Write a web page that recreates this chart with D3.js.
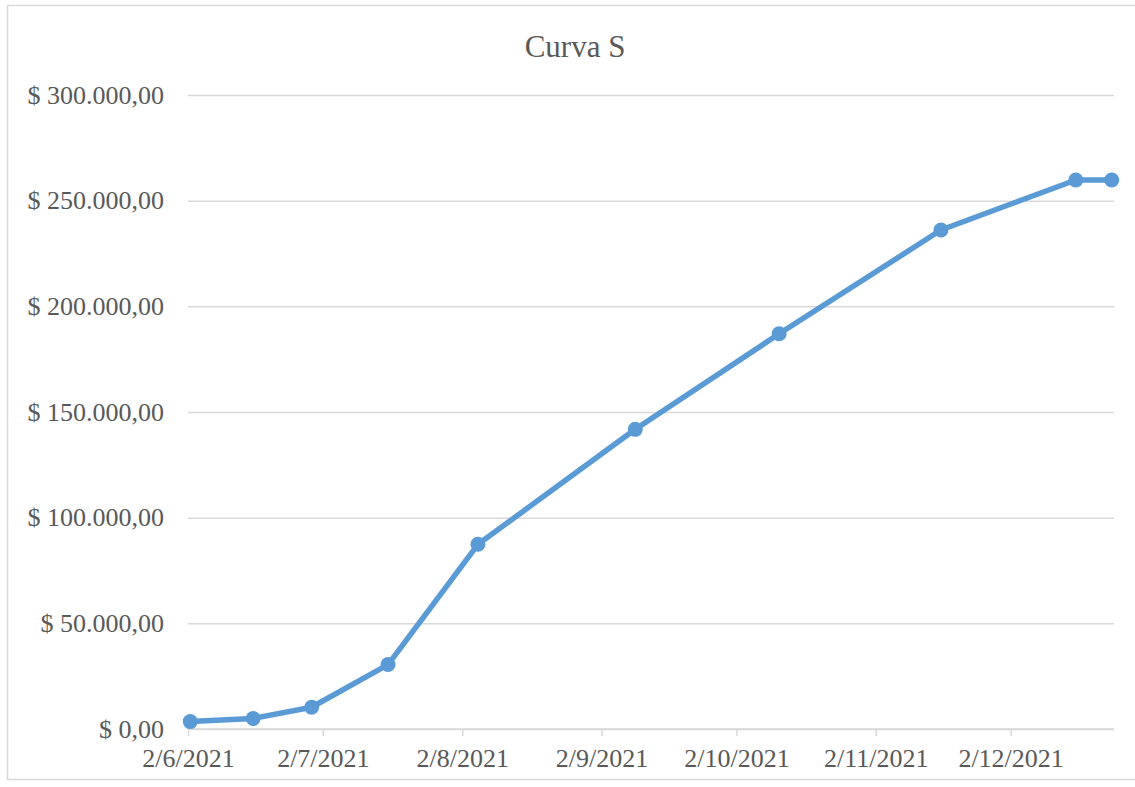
<!DOCTYPE html>
<html>
<head>
<meta charset="utf-8">
<script src="https://cdn.jsdelivr.net/npm/d3@7"></script>
<style>
  html, body { margin: 0; padding: 0; background: #fff; }
  svg { display: block; }
</style>
</head>
<body>
<svg id="chart" width="1135" height="787"></svg>
<script>
// Cumulative cost (S curve), dates written as day/month/year
const dates = ["2/6/2021", "16/6/2021", "29/6/2021", "16/7/2021", "5/8/2021",
               "9/9/2021", "11/10/2021", "16/11/2021", "16/12/2021", "24/12/2021"];
const values = [3500, 5000, 10300, 30500, 87400, 141800, 187000, 236100, 259800, 259800];
const yTicks = [0, 50000, 100000, 150000, 200000, 250000, 300000];
const xTicks = ["2/6/2021", "2/7/2021", "2/8/2021", "2/9/2021", "2/10/2021", "2/11/2021", "2/12/2021"];
const title = "Curva S";

const parse = d3.timeParse("%d/%m/%Y");
const dayMs = 24 * 3600 * 1000;
const pts = dates.map((d, i) => ({ date: parse(d), value: values[i] }));

const svg = d3.select("#chart");
const font = "'Liberation Serif', 'Times New Roman', serif";
const textColor = "#595959";
const gridColor = "#D9D9D9";

const plot = { left: 188, right: 1114, top: 95, bottom: 729 };

// outer chart frame
svg.append("rect")
  .attr("x", 7.5).attr("y", 5.5)
  .attr("width", 1140).attr("height", 774)
  .attr("fill", "none").attr("stroke", gridColor).attr("stroke-width", 1.5);

// date axis spans the first date to one day past the last (points sit mid-day)
const x = d3.scaleTime()
  .domain([pts[0].date, new Date(+pts[pts.length - 1].date + dayMs)])
  .range([plot.left, plot.right]);
const y = d3.scaleLinear().domain([0, 300000]).range([plot.bottom, plot.top]);

const fmtMoney = v => "$ " + d3.format(",.2f")(v).replace(/,/g, "#").replace(/\./g, ",").replace(/#/g, ".");

// horizontal gridlines + y labels
const yAxis = d3.axisLeft(y).tickValues(yTicks).tickSize(-(plot.right - plot.left)).tickPadding(24)
  .tickFormat(fmtMoney);
const gy = svg.append("g").attr("transform", `translate(${plot.left},0)`).call(yAxis);
gy.select(".domain").remove();
gy.selectAll(".tick line").attr("stroke", gridColor).attr("stroke-width", 1.5);
gy.selectAll(".tick text")
  .attr("fill", textColor).style("font-family", font).style("font-size", "26px")
  .attr("dy", "0.32em");

// x axis with month ticks
const xAxis = d3.axisBottom(x).tickValues(xTicks.map(parse)).tickSize(7).tickPadding(13)
  .tickFormat(d => `${d.getDate()}/${d.getMonth() + 1}/${d.getFullYear()}`);
const gx = svg.append("g").attr("transform", `translate(0,${plot.bottom})`).call(xAxis);
gx.select(".domain").attr("stroke", gridColor).attr("stroke-width", 1.5)
  .attr("d", `M${plot.left},0H${plot.right}`);
gx.selectAll(".tick line").attr("stroke", gridColor).attr("stroke-width", 1.5);
gx.selectAll(".tick text")
  .attr("fill", textColor).style("font-family", font).style("font-size", "26px");

// series line and markers
const px = d => x(new Date(+d.date + dayMs / 2));
const line = d3.line().x(px).y(d => y(d.value));
svg.append("path").datum(pts)
  .attr("d", line).attr("fill", "none")
  .attr("stroke", "#5B9BD5").attr("stroke-width", 5.5).attr("stroke-linejoin", "round");
svg.append("g").selectAll("circle").data(pts).join("circle")
  .attr("cx", px).attr("cy", d => y(d.value)).attr("r", 7.5)
  .attr("fill", "#5B9BD5");

// title
svg.append("text")
  .attr("x", 575).attr("y", 57).attr("text-anchor", "middle")
  .attr("fill", textColor).style("font-family", font).style("font-size", "31px")
  .text(title);
</script>
</body>
</html>
